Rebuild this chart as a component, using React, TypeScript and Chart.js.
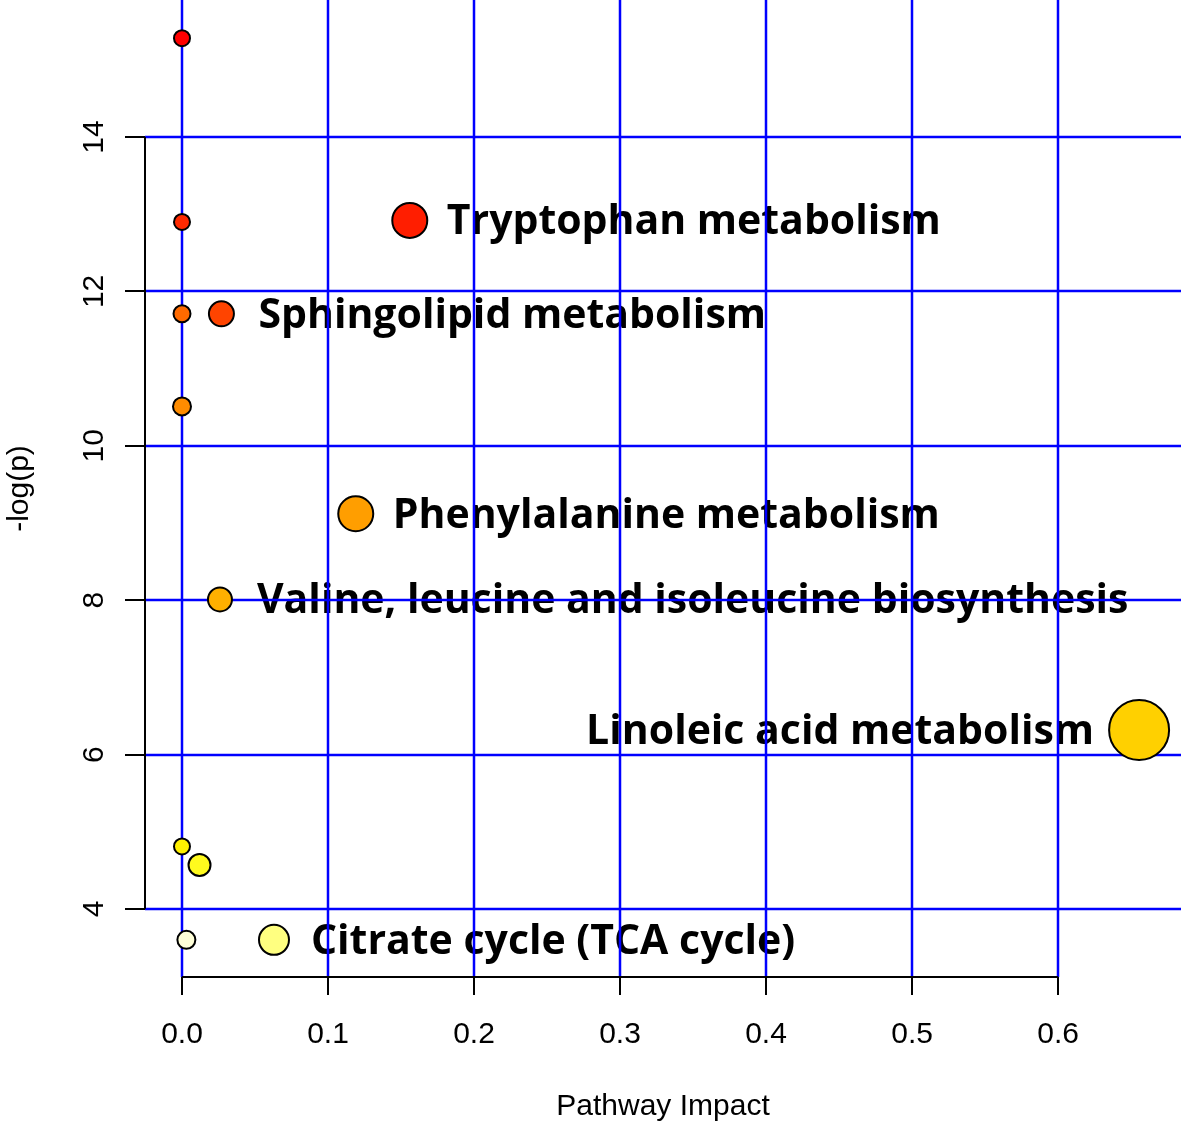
import React, { useEffect, useRef } from "react";
import { Chart, registerables } from "chart.js";

Chart.register(...registerables);

const pathwayImpact = [0, 0, 0.156, 0, 0.027, 0, 0.119, 0.026, 0.6555, 0, 0.012, 0.003, 0.063];
const negLogP = [15.28, 12.9, 12.92, 11.71, 11.71, 10.51, 9.12, 8.01, 6.32, 4.81, 4.57, 3.6, 3.6];
const bubbleRadius = [8, 8, 17.5, 8.5, 12.5, 9, 17.5, 12, 30, 8, 11, 9, 15];
const bubbleColors = [
  "#FF0000", "#FF2A00", "#FF1E00", "#FF6A00", "#FF4400", "#FF8C00",
  "#FF9E00", "#FFB000", "#FFD000", "#FFF000", "#FFFA1E", "#FFFFD8", "#FFFF80",
];
const pathwayNames = [
  "", "", "Tryptophan metabolism", "", "Sphingolipid metabolism", "",
  "Phenylalanine metabolism", "Valine, leucine and isoleucine biosynthesis",
  "Linoleic acid metabolism", "", "", "", "Citrate cycle (TCA cycle)",
];
const labelSide = ["", "", "right", "", "right", "", "right", "right", "left", "", "", "", "right"];

const xTicks = [0, 0.1, 0.2, 0.3, 0.4, 0.5, 0.6];
const xTickLabels = ["0.0", "0.1", "0.2", "0.3", "0.4", "0.5", "0.6"];
const yTicks = [4, 6, 8, 10, 12, 14];
const yTickLabels = ["4", "6", "8", "10", "12", "14"];
const xTitle = "Pathway Impact";
const yTitle = "-log(p)";

const W = 1181;
const H = 1126;

export default function App() {
  const ref = useRef<HTMLCanvasElement | null>(null);

  useEffect(() => {
    const canvas = ref.current;
    if (!canvas) return;

    const decorPlugin = {
      id: "decor",
      beforeDatasetsDraw(chart: any) {
        const ctx = chart.ctx as CanvasRenderingContext2D;
        const xs = chart.scales.x;
        const ys = chart.scales.y;
        const area = chart.chartArea;
        ctx.save();
        // labels (under grid)
        ctx.fillStyle = "#000";
        ctx.font = "bold 41px 'Open Sans', 'Noto Sans', sans-serif";
        ctx.textBaseline = "alphabetic";
        pathwayNames.forEach((name, i) => {
          if (!name) return;
          const px = xs.getPixelForValue(pathwayImpact[i]);
          const py = ys.getPixelForValue(negLogP[i]);
          if (labelSide[i] === "left") {
            ctx.textAlign = "right";
            ctx.fillText(name, px - 45, py + 14);
          } else {
            ctx.textAlign = "left";
            ctx.fillText(name, px + 37, py + 14);
          }
        });
        // grid
        ctx.strokeStyle = "#0000FF";
        ctx.lineWidth = 2.5;
        const axisBottom = area.bottom;
        xTicks.forEach((t) => {
          const px = Math.round(xs.getPixelForValue(t));
          ctx.beginPath();
          ctx.moveTo(px, area.top);
          ctx.lineTo(px, axisBottom);
          ctx.stroke();
        });
        yTicks.forEach((t) => {
          const py = Math.round(ys.getPixelForValue(t));
          ctx.beginPath();
          ctx.moveTo(area.left, py);
          ctx.lineTo(area.right, py);
          ctx.stroke();
        });
        // axes
        ctx.strokeStyle = "#000";
        ctx.lineWidth = 2;
        const y4 = ys.getPixelForValue(yTicks[0]);
        const y14 = ys.getPixelForValue(yTicks[yTicks.length - 1]);
        ctx.beginPath();
        ctx.moveTo(area.left, y4);
        ctx.lineTo(area.left, y14);
        ctx.stroke();
        yTicks.forEach((t) => {
          const py = Math.round(ys.getPixelForValue(t));
          ctx.beginPath();
          ctx.moveTo(area.left - 20, py);
          ctx.lineTo(area.left, py);
          ctx.stroke();
        });
        const x0 = xs.getPixelForValue(xTicks[0]);
        const x6 = xs.getPixelForValue(xTicks[xTicks.length - 1]);
        ctx.beginPath();
        ctx.moveTo(x0, axisBottom);
        ctx.lineTo(x6, axisBottom);
        ctx.stroke();
        xTicks.forEach((t) => {
          const px = Math.round(xs.getPixelForValue(t));
          ctx.beginPath();
          ctx.moveTo(px, axisBottom);
          ctx.lineTo(px, axisBottom + 18);
          ctx.stroke();
        });
        // tick labels
        ctx.fillStyle = "#000";
        ctx.font = "30px 'Liberation Sans', Arial, sans-serif";
        ctx.textAlign = "center";
        ctx.textBaseline = "middle";
        xTicks.forEach((t, i) => {
          ctx.fillText(xTickLabels[i], xs.getPixelForValue(t), axisBottom + 58);
        });
        yTicks.forEach((t, i) => {
          ctx.save();
          ctx.translate(area.left - 50, ys.getPixelForValue(t));
          ctx.rotate(-Math.PI / 2);
          ctx.fillText(yTickLabels[i], 0, 0);
          ctx.restore();
        });
        // titles
        ctx.font = "30px 'Liberation Sans', Arial, sans-serif";
        ctx.fillText(xTitle, (area.left + area.right) / 2, axisBottom + 130);
        ctx.save();
        ctx.translate(20, (area.top + area.bottom) / 2);
        ctx.rotate(-Math.PI / 2);
        ctx.fillText(yTitle, 0, 0);
        ctx.restore();
        ctx.restore();
      },
    };

    const chart = new Chart(canvas, {
      type: "bubble",
      data: {
        datasets: [
          {
            data: pathwayImpact.map((x, i) => ({ x, y: negLogP[i], r: bubbleRadius[i] })),
            backgroundColor: bubbleColors,
            borderColor: "#000000",
            borderWidth: 2,
            clip: false as any,
          },
        ],
      },
      options: {
        responsive: false,
        animation: false,
        layout: { autoPadding: false, padding: { left: 145, right: 0, top: 0, bottom: 149 } },
        plugins: { legend: { display: false }, tooltip: { enabled: false } },
        scales: {
          x: { type: "linear", display: false, min: -0.02534, max: 0.6842 },
          y: { type: "linear", display: false, min: 3.119, max: 15.775 },
        },
      },
      plugins: [decorPlugin],
    });
    return () => chart.destroy();
  }, []);

  return (
    <div style={{ position: "absolute", left: 0, top: 0, width: W, height: H, background: "#fff" }}>
      <canvas ref={ref} width={W} height={H} style={{ display: "block" }} />
    </div>
  );
}
